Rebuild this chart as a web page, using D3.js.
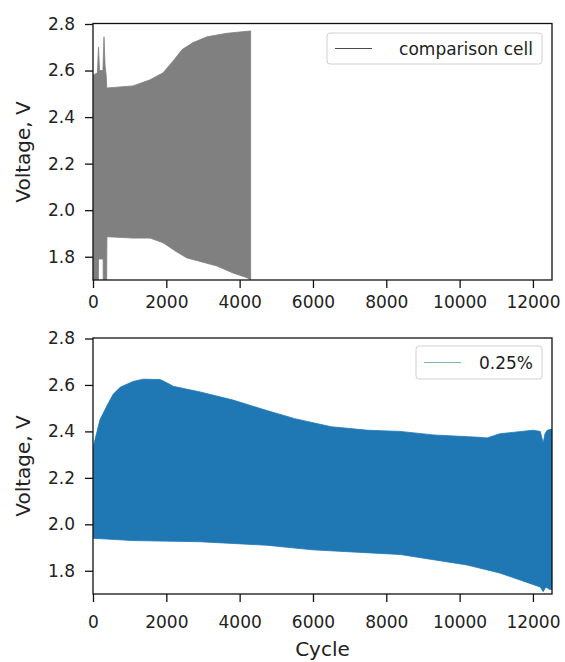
<!DOCTYPE html>
<html>
<head>
<meta charset="utf-8">
<script src="https://cdn.jsdelivr.net/npm/d3@7"></script>
<style>
  html, body { margin: 0; padding: 0; background: #fff; }
  svg text { font-family: "DejaVu Sans", sans-serif; fill: #222; }
</style>
</head>
<body>
<svg id="chart" width="565" height="662"></svg>
<script>
// ---------- data ----------
const xTicks = [0, 2000, 4000, 6000, 8000, 10000, 12000];
const yTicks = [1.8, 2.0, 2.2, 2.4, 2.6, 2.8];

// comparison cell: envelope of the cycling voltage
const cmpUpperCycle = [0, 120, 150, 180, 270, 300, 330, 360, 375, 1090, 1555, 1910, 2180, 2430, 2730, 3110, 3650, 4280, 4300];
const cmpUpperV     = [2.58, 2.59, 2.70, 2.60, 2.60, 2.745, 2.62, 2.58, 2.525, 2.534, 2.56, 2.59, 2.64, 2.69, 2.72, 2.745, 2.76, 2.77, 2.77];
const cmpLowerCycle = [0, 145, 150, 276, 281, 370, 380, 1090, 1555, 1910, 2290, 2560, 2920, 3380, 3820, 4200, 4300];
const cmpLowerV     = [1.60, 1.60, 1.79, 1.79, 1.60, 1.60, 1.886, 1.88, 1.88, 1.86, 1.82, 1.795, 1.78, 1.76, 1.73, 1.71, 1.70];

// 0.25 % cell
const addUpperCycle = [0, 190, 380, 550, 740, 1090, 1370, 1830, 2010, 2190, 2920, 3820, 4740, 5500, 6500, 7500, 8380, 9280, 10500, 10750, 11100, 12000, 12200, 12280, 12330, 12390, 12520];
const addUpperV     = [2.33, 2.45, 2.51, 2.56, 2.59, 2.615, 2.625, 2.623, 2.61, 2.594, 2.57, 2.535, 2.49, 2.455, 2.42, 2.405, 2.40, 2.385, 2.375, 2.372, 2.39, 2.405, 2.40, 2.35, 2.39, 2.405, 2.41];
const addLowerCycle = [0, 1090, 2920, 4740, 6000, 7200, 8380, 10200, 11100, 11840, 12200, 12280, 12350, 12450, 12520];
const addLowerV     = [1.94, 1.93, 1.925, 1.91, 1.89, 1.88, 1.87, 1.825, 1.79, 1.75, 1.73, 1.71, 1.73, 1.72, 1.72];

const panels = [
  { top: 23.5, bottom: 280, upC: cmpUpperCycle, upV: cmpUpperV, loC: cmpLowerCycle, loV: cmpLowerV,
    color: "#808080", legend: "comparison cell", legendLine: "#4a4a4a",
    legendBox: [327, 33, 215, 31], tickLabelY: 302, ylabelY: 152 },
  { top: 338, bottom: 594, upC: addUpperCycle, upV: addUpperV, loC: addLowerCycle, loV: addLowerV,
    color: "#1f77b4", legend: "0.25%", legendLine: "#79b9c6",
    legendBox: [416, 346, 126, 33], tickLabelY: 622, ylabelY: 466 }
];

const left = 93, right = 552;
const svg = d3.select("#chart");
const x = d3.scaleLinear().domain([0, 12520]).range([left, right]);

panels.forEach((p, i) => {
  const y = d3.scaleLinear().domain([1.7, 2.8]).range([p.bottom, p.top + 0.5]);
  const g = svg.append("g");
  const clipId = "clip" + i;
  svg.append("clipPath").attr("id", clipId)
    .append("rect").attr("x", left).attr("y", p.top).attr("width", right - left).attr("height", p.bottom - p.top);

  // envelope polygon: upper forward, lower backward
  const pts = p.upC.map((c, k) => [c, p.upV[k]])
    .concat(p.loC.map((c, k) => [c, p.loV[k]]).reverse());
  const line = d3.line().x(d => x(d[0])).y(d => y(d[1]));
  g.append("path")
    .attr("d", line(pts) + "Z")
    .attr("fill", p.color)
    .attr("stroke", p.color)
    .attr("stroke-width", 0.8)
    .attr("clip-path", `url(#${clipId})`);

  // axes
  const xAxis = d3.axisBottom(x).tickValues(xTicks).tickSize(8).tickPadding(4).tickFormat(d3.format("d"));
  const gx = g.append("g").attr("transform", `translate(0,${p.bottom})`).call(xAxis);
  gx.select(".domain").remove();
  gx.selectAll(".tick line").attr("stroke", "#111").attr("stroke-width", 1.3);
  gx.selectAll(".tick text").attr("font-size", 17).attr("fill", "#222")
    .attr("dy", null).attr("y", p.tickLabelY - p.bottom).attr("dominant-baseline", "central");

  const yAxis = d3.axisLeft(y).tickValues(yTicks).tickSize(8).tickPadding(10).tickFormat(d3.format(".1f"));
  const gy = g.append("g").attr("transform", `translate(${left},0)`).call(yAxis);
  gy.select(".domain").remove();
  gy.selectAll(".tick line").attr("stroke", "#111").attr("stroke-width", 1.3);
  gy.selectAll(".tick text").attr("font-size", 17).attr("fill", "#222");

  // frame
  g.append("rect").attr("x", left).attr("y", p.top).attr("width", right - left).attr("height", p.bottom - p.top)
    .attr("fill", "none").attr("stroke", "#111").attr("stroke-width", 1.3);

  // y label
  g.append("text")
    .attr("transform", `translate(23,${p.ylabelY}) rotate(-90)`)
    .attr("text-anchor", "middle").attr("dominant-baseline", "central")
    .attr("font-size", 20).text("Voltage, V");

  // legend
  const [lx, ly, lw, lh] = p.legendBox;
  g.append("rect").attr("x", lx).attr("y", ly).attr("width", lw).attr("height", lh)
    .attr("rx", 3).attr("fill", "#fff").attr("fill-opacity", 0.85)
    .attr("stroke", "#d0d0d0").attr("stroke-width", 1);
  g.append("line").attr("x1", lx + 8).attr("x2", lx + 45)
    .attr("y1", ly + lh / 2).attr("y2", ly + lh / 2)
    .attr("stroke", p.legendLine).attr("stroke-width", 1);
  g.append("text").attr("x", lx + lw - 9).attr("y", ly + lh / 2)
    .attr("text-anchor", "end").attr("dominant-baseline", "central")
    .attr("font-size", 17).text(p.legend);
});

// x label
svg.append("text").attr("x", (left + right) / 2).attr("y", 649)
  .attr("text-anchor", "middle").attr("dominant-baseline", "central")
  .attr("font-size", 20).text("Cycle");
</script>
</body>
</html>
